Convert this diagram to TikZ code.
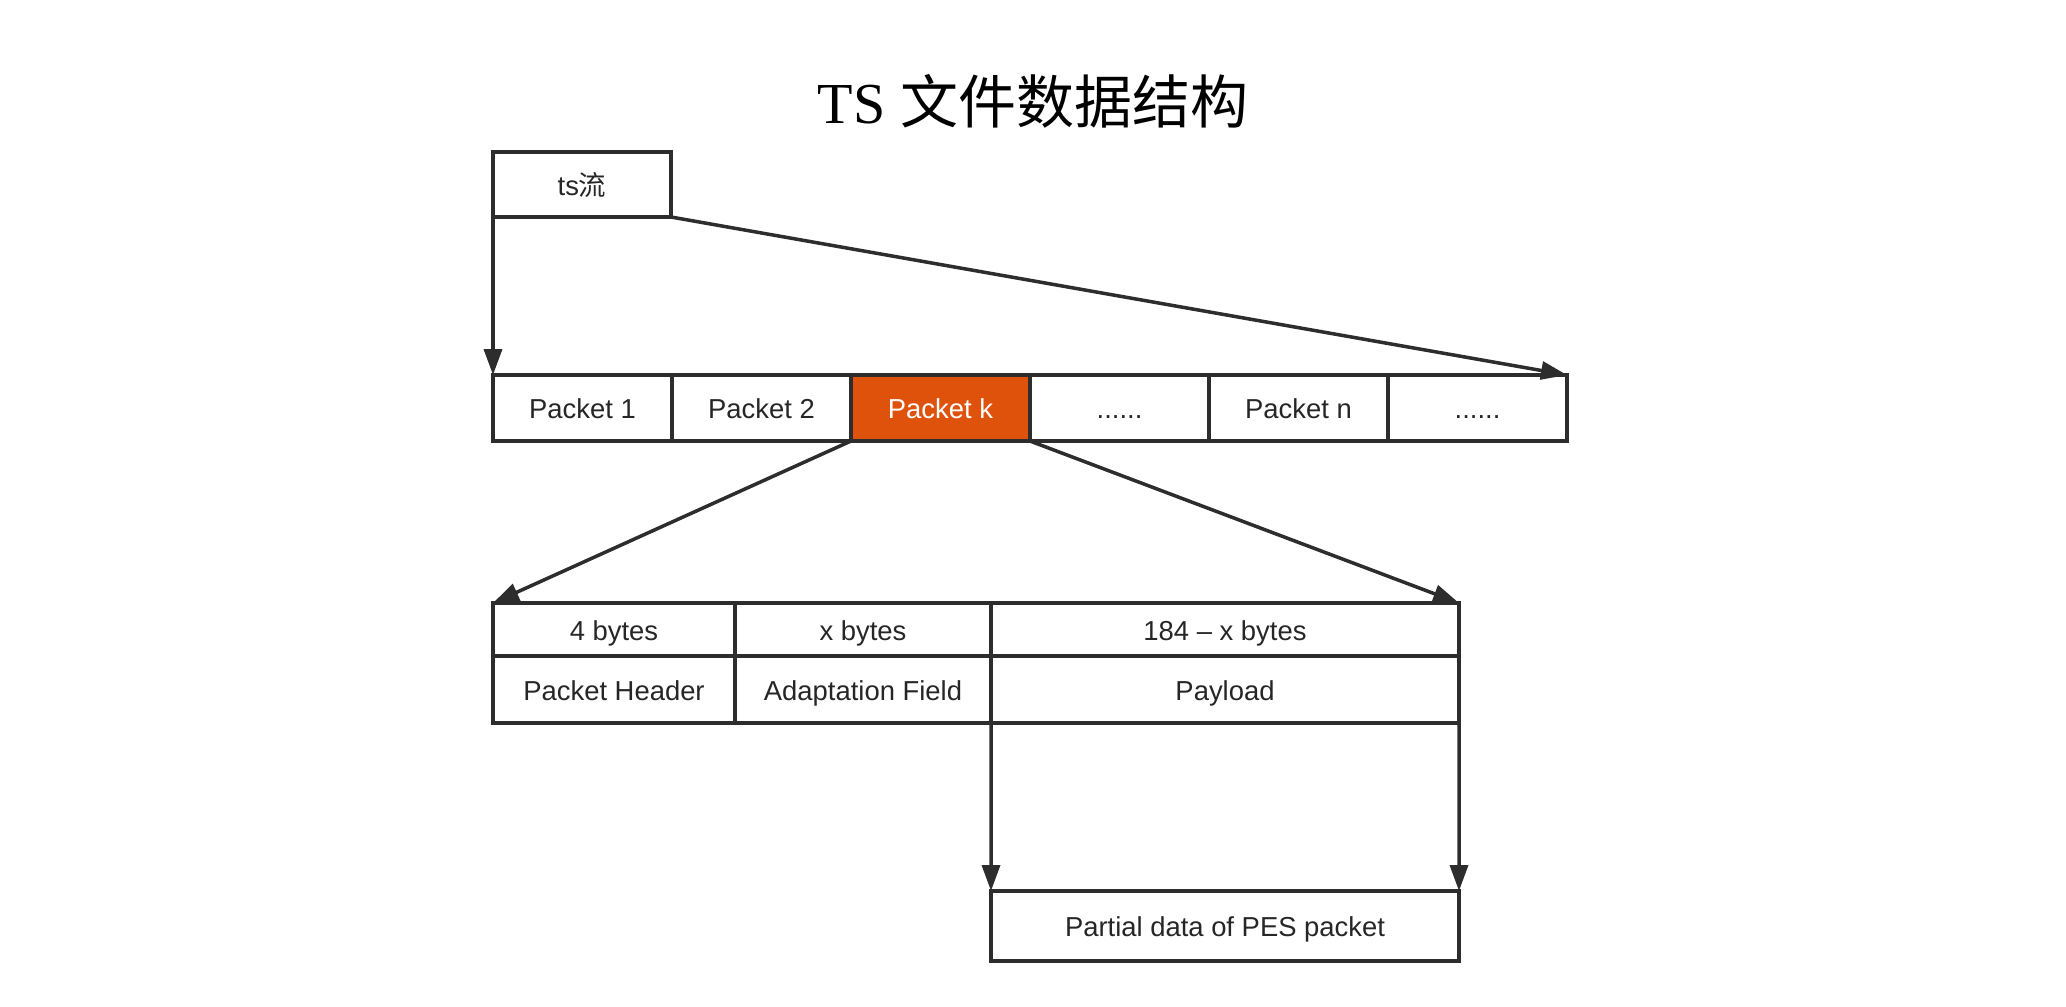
\documentclass[tikz,border=0pt]{standalone}
\usepackage{fontspec}
\setmainfont{Liberation Sans}
\newfontfamily\cjk{Noto Sans CJK SC}
\newfontfamily\titleserif{Liberation Serif}
\usepackage{xcolor}
\usetikzlibrary{arrows.meta,positioning}
\definecolor{pkorange}{RGB}{222,82,12}
\definecolor{boxline}{RGB}{45,45,45}
\newcommand{\pkdots}{......}
\tikzset{
  cell/.style={draw=boxline,line width=1pt,inner sep=0pt,outer sep=0pt,minimum height=0.66cm,
    text height=1.6ex,text depth=0.45ex,font=\fontsize{7.8}{9}\selectfont,text=black!85},
  hotcell/.style={cell,fill=pkorange,text=white},
  link/.style={draw=boxline,line width=1pt,-{Triangle[length=0.26cm,width=0.18cm]}}
}

\begin{document}
\begin{tikzpicture}
  \useasboundingbox (0,0) rectangle (20.66,-10.06);
  \node (title) at (10.33,-1.01) {\fontsize{16.5}{20}\selectfont\titleserif TS\ \cjk 文件数据结构};
  \node[cell,anchor=north west,minimum width=1.78cm,minimum height=0.65cm] (ts) at (4.93,-1.52) {ts{\cjk 流}};
  % packet row
  \foreach \i/\txt/\sty in {1/Packet 1/cell,2/Packet 2/cell,3/Packet k/hotcell,4/\pkdots/cell,5/Packet n/cell,6/\pkdots/cell}
    \node[\sty,anchor=north west,minimum width=1.79cm] (pk\i) at ({4.93+1.79*(\i-1)},-3.75) {\txt};
  % ts packet layout
  \node[cell,anchor=north west,minimum width=2.42cm,minimum height=0.53cm] (sz1) at (4.93,-6.03) {4 bytes};
  \node[cell,anchor=north west,minimum width=2.56cm,minimum height=0.53cm] (sz2) at (sz1.north east) {x bytes};
  \node[cell,anchor=north west,minimum width=4.68cm,minimum height=0.53cm] (sz3) at (sz2.north east) {184 -- x bytes};
  \node[cell,anchor=north west,minimum width=2.42cm,minimum height=0.67cm] (hdr) at (sz1.south west) {Packet Header};
  \node[cell,anchor=north west,minimum width=2.56cm,minimum height=0.67cm] (adapt) at (sz2.south west) {Adaptation Field};
  \node[cell,anchor=north west,minimum width=4.68cm,minimum height=0.67cm] (payload) at (sz3.south west) {Payload};
  \node[cell,anchor=north west,minimum width=4.68cm,minimum height=0.70cm] (pes) at (9.91,-8.91) {Partial data of PES packet};
  % connectors
  \draw[link] (ts.south west) -- (pk1.north west);
  \draw[link] (ts.south east) -- (pk6.north east);
  \draw[link] (pk3.south west) -- (sz1.north west);
  \draw[link] (pk3.south east) -- (sz3.north east);
  \draw[link] (payload.south west) -- (pes.north west);
  \draw[link] (payload.south east) -- (pes.north east);
\end{tikzpicture}
\end{document}
